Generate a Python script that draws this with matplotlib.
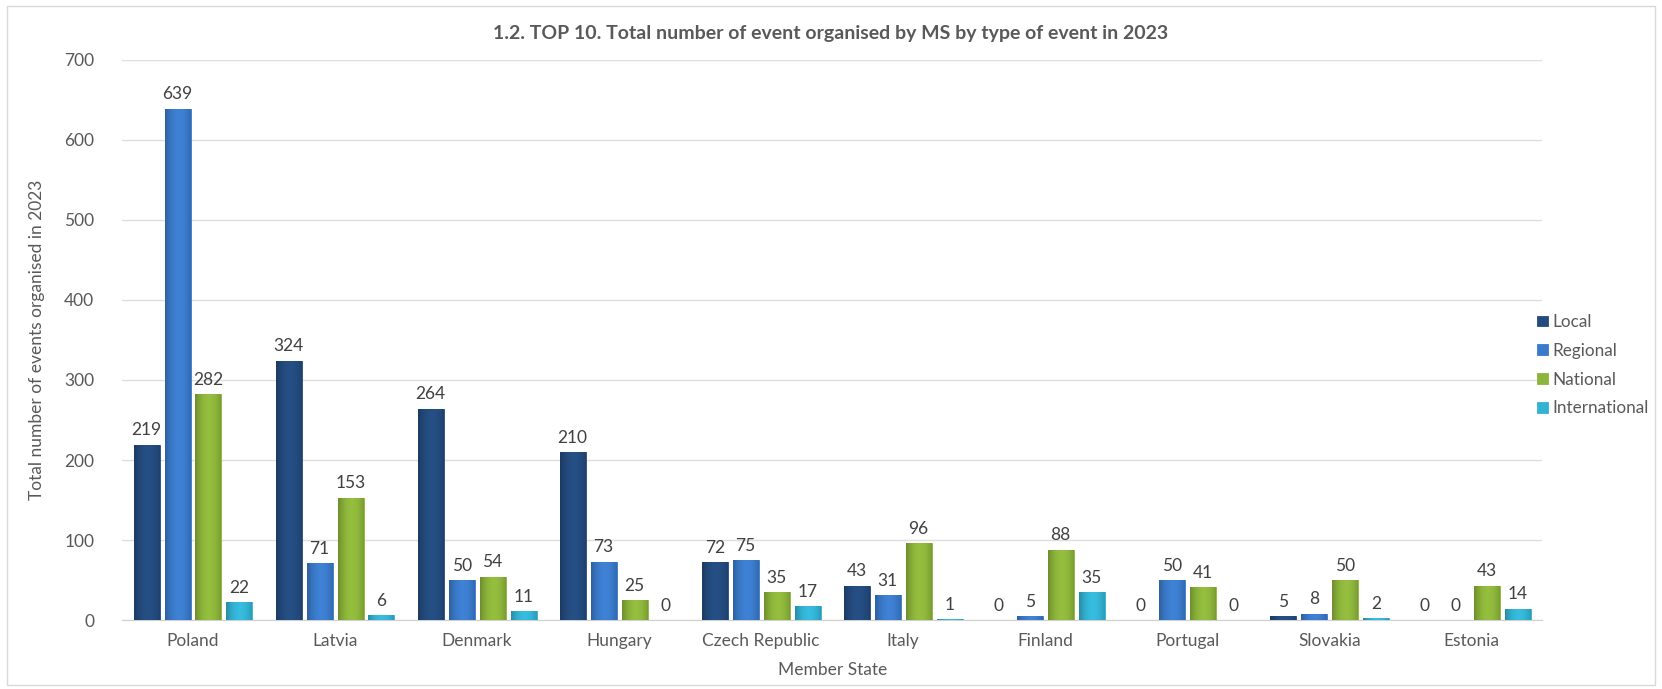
import numpy as np
import matplotlib.pyplot as plt
from matplotlib.patches import Rectangle
from matplotlib.colors import to_rgb

plt.rcParams['font.family'] = ['Lato', 'DejaVu Sans']

# Data
countries = ['Poland', 'Latvia', 'Denmark', 'Hungary', 'Czech Republic',
             'Italy', 'Finland', 'Portugal', 'Slovakia', 'Estonia']
local = [219, 324, 264, 210, 72, 43, 0, 0, 5, 0]
regional = [639, 71, 50, 73, 75, 31, 5, 50, 8, 0]
national = [282, 153, 54, 25, 35, 96, 88, 41, 50, 43]
international = [22, 6, 11, 0, 17, 1, 35, 0, 2, 14]

series = [('Local', local, '#244b7e'),
          ('Regional', regional, '#3b7bcb'),
          ('National', national, '#8db53b'),
          ('International', international, '#33b3d4')]

text_col = '#595959'

fig = plt.figure(figsize=(16.62, 6.89), dpi=100)
ax = fig.add_axes([0.0734, 0.1001, 0.8546, 0.8129])

x = np.arange(len(countries))
pitch = 0.218
width = 0.183

# horizontal shading profile used to give the bars a soft rounded look
prof = np.linspace(-1, 1, 64)
shade = 1 - 0.22 * prof ** 2 + 0.04 * prof


def shaded(col):
    rgb = np.array(to_rgb(col))
    img = np.clip(rgb[None, :] * shade[:, None] * 1.05, 0, 1)
    return img[None, :, :]


for i, (name, vals, col) in enumerate(series):
    pos = x + (i - 1.5) * pitch
    bars = ax.bar(pos, vals, width, color=col, edgecolor=col, linewidth=0.6,
                  label=name, zorder=3)
    for b in bars:
        if b.get_height() <= 0:
            continue
        x0, y0 = b.get_x(), b.get_y()
        im = ax.imshow(shaded(col), extent=[x0, x0 + b.get_width(), y0, y0 + b.get_height()],
                       aspect='auto', zorder=3.5, interpolation='bilinear')
        im.set_clip_path(b)
    for px, v in zip(pos, vals):
        ax.text(px, v + 8, str(v), ha='center', va='bottom',
                fontsize=12.5, color='#404040', zorder=4)

ax.set_xlim(-0.5, len(countries) - 0.5)
ax.set_ylim(0, 700)
ax.set_yticks(range(0, 701, 100))
ax.set_xticks(x)
ax.set_xticklabels(countries)
ax.tick_params(axis='both', length=0, labelsize=12.5, colors=text_col)
ax.tick_params(axis='x', pad=9)
ax.tick_params(axis='y', pad=20)
ax.yaxis.grid(True, color='#dedede', linewidth=1, zorder=0)
for s in ['top', 'right', 'left']:
    ax.spines[s].set_visible(False)
ax.spines['bottom'].set_color('#d0d0d0')

ax.set_xlabel('Member State', fontsize=12.5, color=text_col, labelpad=10)
ax.set_ylabel('Total number of events organised in 2023', fontsize=12.5,
              color=text_col, labelpad=14)
fig.text(0.5, 0.952, '1.2. TOP 10. Total number of event organised by MS by type of event in 2023',
         ha='center', va='center', fontsize=14, fontweight='bold', color=text_col)

ax.legend(loc='center left', bbox_to_anchor=(0.925, 0.47),
          bbox_transform=fig.transFigure, frameon=False, fontsize=12.3,
          borderpad=0, borderaxespad=0,
          handlelength=0.6, handleheight=0.6, handletextpad=0.3,
          labelspacing=0.75, labelcolor=text_col)

# light frame around the whole chart
fig.patches.append(Rectangle((0.004, 0.006), 0.992, 0.986, transform=fig.transFigure,
                             fill=False, edgecolor='#d9d9d9', linewidth=1))

fig.savefig('out.png', dpi=100)
